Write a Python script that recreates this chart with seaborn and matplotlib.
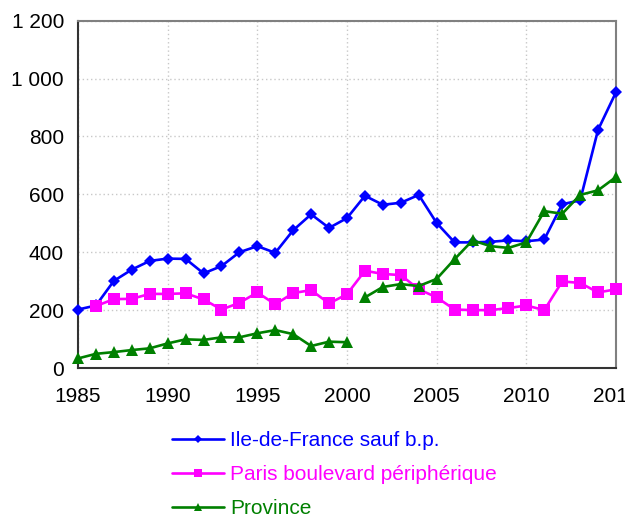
import matplotlib
matplotlib.use('Agg')
import matplotlib.pyplot as plt
from matplotlib.ticker import FuncFormatter, MultipleLocator
import numpy as np
import pandas as pd
import seaborn as sns

years = list(range(1985, 2016))
idf = [202, 216, 301, 340, 370, 378, 377, 327, 352, 400, 421, 398, 476, 531, 484, 518,
       595, 564, 571, 598, 501, 434, 434, 436, 441, 438, 444, 566, 579, 823, 953]
paris_years = list(range(1986, 2016))
paris = [214, 238, 239, 256, 256, 258, 237, 202, 225, 261, 220, 259, 269, 223, 255,
         336, 325, 321, 272, 244, 202, 200, 200, 207, 216, 200, 299, 294, 261, 272]
province = [33, 49, 55, 62, 68, 85, 99, 97, 106, 106, 120, 131, 117, 76, 91, 89,
            244, 280, 290, 283, 308, 376, 441, 421, 415, 434, 542, 533, 598, 614, 660]

labels = ["Ile-de-France sauf b.p.", "Paris boulevard périphérique", "Province"]
colors = ["#0000FF", "#FF00FF", "#008000"]

rows = []
for y, v in zip(years, idf):
    rows.append((labels[0], y, v, 1))
for y, v in zip(paris_years, paris):
    rows.append((labels[1], y, v, 1))
for y, v in zip(years, province):
    # break in the Province series between 2000 and 2001
    rows.append((labels[2], y, v, 1 if y <= 2000 else 2))
df = pd.DataFrame(rows, columns=["series", "year", "value", "segment"])

sns.set_style("white")
plt.rcParams['font.family'] = ['Liberation Sans', 'DejaVu Sans']

fig = plt.figure(figsize=(6.25, 5.15), dpi=100)
ax = fig.add_axes([78 / 625, 1 - 368 / 515, (616 - 78) / 625, (368 - 20.7) / 515])

sns.lineplot(data=df, x="year", y="value", hue="series", style="series",
             units="segment", estimator=None, hue_order=labels, style_order=labels,
             palette=colors, markers={labels[0]: "D", labels[1]: "s", labels[2]: "^"},
             dashes=False, linewidth=1.9, markeredgewidth=0, ax=ax, legend=False)
for line, lab in zip(ax.lines, [labels[0], labels[1], labels[2], labels[2]]):
    ms = {labels[0]: 6, labels[1]: 9, labels[2]: 9}[lab]
    line.set_markersize(ms)
    line.set_clip_on(False)
    line.set_zorder(3)

ax.set_xlim(1985, 2015)
ax.set_ylim(0, 1200)
ax.xaxis.set_major_locator(MultipleLocator(5))
ax.yaxis.set_major_locator(MultipleLocator(200))
ax.yaxis.set_major_formatter(FuncFormatter(lambda v, p: f"{int(v):,}".replace(",", " ")))
ax.set_xlabel("")
ax.set_ylabel("")
ax.grid(True, color="#c8c8c8", linestyle=(0, (1, 2)), linewidth=1)
for side in ["left", "bottom"]:
    ax.spines[side].set_color("#333333")
    ax.spines[side].set_linewidth(1.5)
for side in ["top", "right"]:
    ax.spines[side].set_color("#808080")
    ax.spines[side].set_linewidth(1.5)
ax.tick_params(axis="both", labelsize=15, colors="#000000", length=5, width=1.2,
               direction="out")
ax.tick_params(axis="y", color="#333333", pad=5)
ax.tick_params(axis="x", color="#333333", pad=9)

handles = [plt.Line2D([], [], color=c, marker=m, markersize=s, linewidth=1.9, markeredgewidth=0)
           for c, m, s in zip(colors, ["D", "s", "^"], [4, 6, 6])]
leg = fig.legend(handles, labels, loc="upper left", bbox_to_anchor=(172 / 625, 1 - 431 / 515),
                 frameon=False, fontsize=15, handlelength=2.5, handletextpad=0.3,
                 labelspacing=0.72, borderpad=0, borderaxespad=0)
for txt, c in zip(leg.get_texts(), colors):
    txt.set_color(c)

fig.savefig("out.png", dpi=100)
